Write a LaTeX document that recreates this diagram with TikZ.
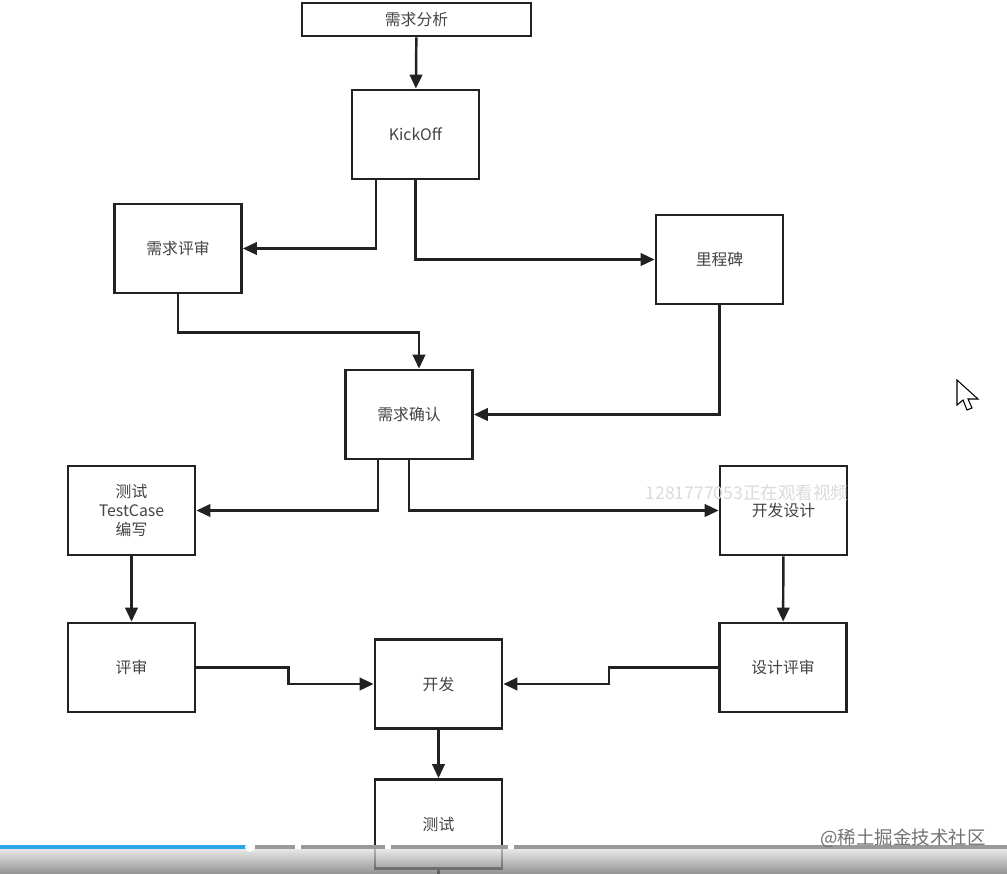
\documentclass[tikz,border=0pt]{standalone}
\usepackage{fontspec}
\setmainfont{Noto Sans CJK SC}
\usetikzlibrary{positioning,arrows.meta,calc}
\definecolor{cLine}{HTML}{222222}
\definecolor{cText}{HTML}{444444}
\definecolor{cBar}{HTML}{2AA5E6}

\begin{document}
\begin{tikzpicture}[x=0.02cm,y=-0.02cm,
  font=\fontsize{9}{11}\selectfont,
  box/.style={draw=cLine,line width=1.6pt,fill=white,minimum width=2.54cm,minimum height=1.78cm,text=cText,align=center,inner sep=1pt},
  ar/.style={-{Triangle[length=2.8mm,width=2.5mm]},line width=1.4pt,draw=cLine}
]
\useasboundingbox[fill=white] (0,0) rectangle (1007,873);
% flow boxes
\node[box,minimum width=4.58cm,minimum height=0.66cm] (ana) at (416.5,19.5) {需求分析};
\node[box] (kick) at (415.5,134.5) {KickOff};
\node[box] (rev) at (178,248.5) {需求评审};
\node[box] (mile) at (719.5,259.5) {里程碑};
\node[box] (conf) at (409,414.5) {需求确认};
\node[box] (tc) at (131.5,510.5) {测试\\TestCase\\编写};
\node[box] (design) at (783.5,510.5) {开发设计};
\node[box] (tcrev) at (131.5,667.5) {评审};
\node[box] (dev) at (438.5,684) {开发};
\node[box] (desrev) at (783,667.5) {设计评审};
\node[box] (test) at (438.5,824) {测试};
% connectors
\draw[ar] (ana) -- (kick);
\draw[ar] ([xshift=-0.79cm]kick.south) |- (rev.east);
\draw[ar] (kick.south) |- (mile.west);
\draw[ar] (rev.south) -- ++(0,38) -| ([xshift=0.2cm]conf.north);
\draw[ar] (mile.south) |- (conf.east);
\draw[ar] ([xshift=-0.62cm]conf.south) |- (tc.east);
\draw[ar] (conf.south) |- (design.west);
\draw[ar] (tc) -- (tcrev);
\draw[ar] (design) -- (desrev);
\draw[ar] (tcrev.east) -- ++(92,0) |- (dev.west);
\draw[ar] (desrev.west) -- ++(-109,0) |- (dev.east);
\draw[ar] (dev) -- (test);
\coordinate (tail) at (438.5,880);
\draw[line width=1.4pt,cLine] (test.south) -- (tail);
% video overlay
\node[text=black!14,font=\fontsize{10}{12}\selectfont] (viewers) at (747,493) {1281777053正在观看视频};
\draw[black,line width=0.6pt,fill=white] (957,380) -- (957,405) -- (963,400) -- (967,410)
  -- (972,408) -- (968,399) -- (978,399) -- cycle;
\shade[top color=black!12,bottom color=black!55,opacity=0.75] (0,849) rectangle (1007,873);
\fill[black!40] (255,845) rectangle (1007,849);
\foreach \g in {295,385,508} \fill[white] (\g,845) rectangle (\g+6,849);
\fill[cBar] (0,845) rectangle (250,849);
\fill[white] (250,847) circle[radius=0.1cm];
\node[text=black!55,font=\fontsize{10.5}{12}\selectfont] (site) at (903,838) {@稀土掘金技术社区};
\end{tikzpicture}
\end{document}
